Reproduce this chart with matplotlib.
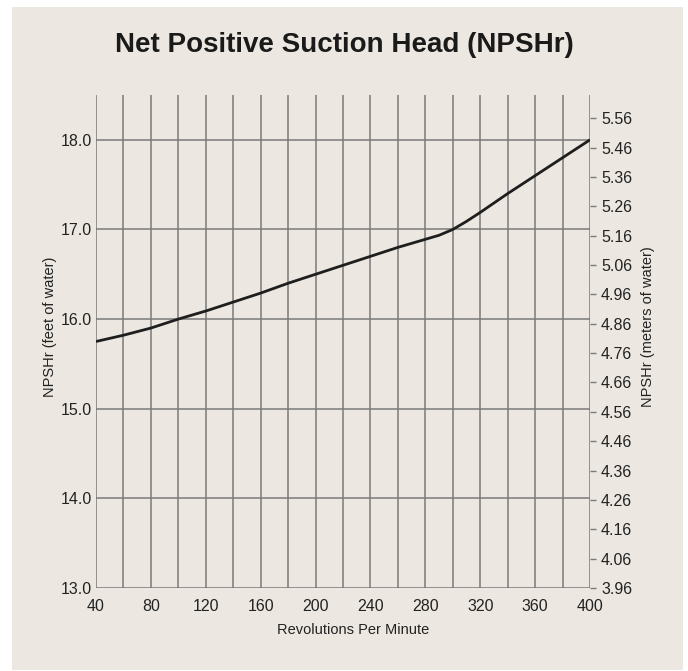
import matplotlib.pyplot as plt
import numpy as np
from matplotlib.patches import Rectangle

plt.rcParams['font.family'] = ['Liberation Sans', 'DejaVu Sans']

# NPSHr curve (feet of water) vs pump speed
rpm = [40, 60, 80, 100, 120, 140, 160, 180, 200, 220, 240, 260, 280, 290, 300, 310, 320, 340, 360, 380, 400]
npshr_ft = [15.75, 15.82, 15.90, 16.0, 16.09, 16.19, 16.29, 16.40, 16.50, 16.60, 16.70, 16.80, 16.89,
            16.935, 17.0, 17.09, 17.19, 17.40, 17.60, 17.80, 18.0]

x_ticks = [40, 80, 120, 160, 200, 240, 280, 320, 360, 400]
y_ticks = [13.0, 14.0, 15.0, 16.0, 17.0, 18.0]
m_ticks = [3.96, 4.06, 4.16, 4.26, 4.36, 4.46, 4.56, 4.66, 4.76, 4.86, 4.96, 5.06, 5.16, 5.26, 5.36, 5.46, 5.56]

FT_TO_M = 0.3048
bg = '#ece8e1'
grid_c = '#7a7a7a'

fig = plt.figure(figsize=(6.88, 6.71), dpi=100)
fig.patch.set_facecolor('white')
fig.add_artist(Rectangle((12 / 688, 1 - 670 / 671), 671 / 688, 663 / 671,
                         transform=fig.transFigure, facecolor=bg, edgecolor='none', zorder=-10))

ax = fig.add_axes([96 / 688, 1 - 588 / 671, 494 / 688, 493 / 671])
ax.set_facecolor(bg)
ax.set_xlim(40, 400)
ax.set_ylim(13.0, 18.5)

# grid lines
for x in range(40, 401, 20):
    ax.axvline(x, color=grid_c, lw=1.1, zorder=1)
for y in y_ticks:
    ax.axhline(y, color=grid_c, lw=1.1, zorder=1)

ax.plot(rpm, npshr_ft, color='#1e1e1e', lw=2, zorder=3, solid_capstyle='butt', solid_joinstyle='round')

for s in ax.spines.values():
    s.set_visible(False)

ax.set_xticks(x_ticks)
ax.set_yticks(y_ticks)
ax.set_yticklabels(['%.1f' % v for v in y_ticks])
ax.tick_params(axis='both', length=0, labelsize=11.5, colors='#222222', pad=3)
ax.tick_params(axis='x', pad=8)

ax.set_xlabel('Revolutions Per Minute', fontsize=10.5, color='#222222')
ax.xaxis.set_label_coords(0.52, -0.07)
ax.set_ylabel('NPSHr (feet of water)', fontsize=10.5, color='#222222')
ax.yaxis.set_label_coords(-0.078, 0.53)

ax2 = ax.twinx()
ax2.set_ylim(13.0 * FT_TO_M, 18.5 * FT_TO_M)
ax2.set_yticks(m_ticks)
ax2.set_yticklabels(['%.2f' % v for v in m_ticks])
for s in ax2.spines.values():
    s.set_visible(False)
ax2.tick_params(axis='y', length=4, width=1, color=grid_c, labelsize=11.5, labelcolor='#222222', pad=4)
ax2.set_ylabel('NPSHr (meters of water)', fontsize=10.5, color='#222222')
ax2.yaxis.set_label_coords(1.103, 0.53)

fig.text(0.5, 1 - 45 / 671, 'Net Positive Suction Head (NPSHr)', ha='center', va='center',
         fontsize=20, fontweight='bold', color='#1a1a1a')

fig.savefig('out.png', dpi=100, facecolor=fig.get_facecolor())
